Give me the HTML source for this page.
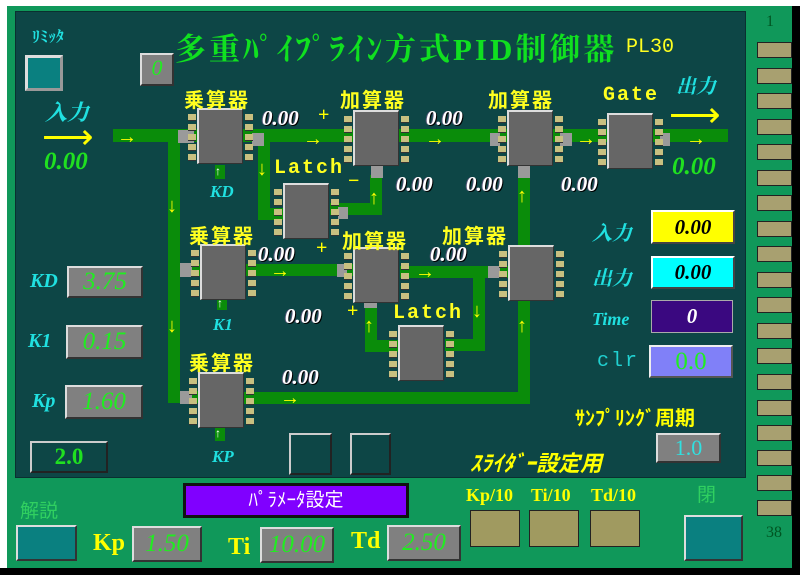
<!DOCTYPE html>
<html><head><meta charset="utf-8"><style>
*{margin:0;padding:0;box-sizing:border-box}
body{width:800px;height:575px;overflow:hidden;background:#fff;position:relative;font-family:"Liberation Serif","Noto Serif CJK SC",serif}
.a{position:absolute}
#outer{left:7px;top:6px;width:785px;height:562px;background:#10985a}
#panel{left:15px;top:11px;width:731px;height:467px;background:#0d4646;border:1px solid #0a3030}
.tr{position:absolute;background:#0a8c0a}
.cn{position:absolute;background:#9a9a9a}
.chip{position:absolute;width:46px;height:56px;background:#666;border-top:2px solid #ddd;border-left:2px solid #ddd;border-right:1px solid #333;border-bottom:1px solid #333}
.chip::before,.chip::after{content:"";position:absolute;top:4px;width:8px;height:48px;background:repeating-linear-gradient(#c8c080 0 6px,#333 6px 7px,transparent 7px 10px)}
.chip::before{left:-11px}.chip::after{right:-11px}
.y{color:#ffff00;font-weight:bold}
.lab{position:absolute;color:#ffff20;font-size:20px;font-weight:bold;letter-spacing:2px;font-family:"Liberation Mono","Noto Sans CJK JP",monospace}
.v{position:absolute;color:#fff;font-style:italic;font-weight:bold;font-size:21px;text-shadow:1px 1px 0 #000,-1px 0 0 #557}
.ar{position:absolute;color:#ffff00;font-size:20px;line-height:12px}
.cy{position:absolute;color:#20e0e0;font-style:italic;font-size:20px;font-weight:bold}
.gb{position:absolute;background:#808080;border-top:2px solid #ddd;border-left:2px solid #ddd;border-right:2px solid #333;border-bottom:2px solid #333;color:#20ee20;font-style:italic;font-size:25px;text-align:center}
.pin{position:absolute;left:757px;width:35px;height:16px;background:#a8a070;border:1px solid #222}
.kh{position:absolute;background:#a09a60;border:1px solid #222;width:50px;height:37px}
</style></head><body>
<div class="a" style="left:0;top:0;width:800px;height:6px;background:#fff"></div>
<div class="a" id="outer"></div>
<div class="a" style="left:792px;top:6px;width:8px;height:569px;background:#000"></div>
<div class="a" style="left:0;top:568px;width:800px;height:7px;background:#000"></div>
<div class="a" id="panel"></div>

<div class="a" style="left:766px;top:13px;font-size:16px;color:#052">1</div>
<div class="pin" style="top:42px"></div><div class="pin" style="top:68px"></div><div class="pin" style="top:93px"></div><div class="pin" style="top:119px"></div><div class="pin" style="top:144px"></div><div class="pin" style="top:170px"></div><div class="pin" style="top:195px"></div><div class="pin" style="top:221px"></div><div class="pin" style="top:246px"></div><div class="pin" style="top:272px"></div><div class="pin" style="top:297px"></div><div class="pin" style="top:323px"></div><div class="pin" style="top:348px"></div><div class="pin" style="top:374px"></div><div class="pin" style="top:400px"></div><div class="pin" style="top:425px"></div><div class="pin" style="top:450px"></div><div class="pin" style="top:475px"></div><div class="pin" style="top:500px"></div>
<div class="a" style="left:766px;top:524px;font-size:16px;color:#052">38</div>

<div class="a" style="left:175px;top:24px;color:#10e020;font-size:31px;font-weight:bold;font-family:'Liberation Serif','Noto Serif CJK SC',serif;letter-spacing:3px">多重ﾊﾟｲﾌﾟﾗｲﾝ方式PID制御器</div>
<div class="a" style="left:626px;top:36px;color:#ffff20;font-size:20px;font-family:'Liberation Mono',monospace">PL30</div>

<div class="cy" style="left:32px;top:24px;font-size:16px;font-style:normal">ﾘﾐｯﾀ</div>
<div class="a" style="left:25px;top:55px;width:38px;height:36px;background:#0a8080;border:3px solid;border-color:#ddd #999 #999 #ddd"></div>
<div class="gb" style="left:140px;top:53px;width:34px;height:33px;font-size:22px">0</div>
<div class="cy" style="left:45px;top:96px;font-size:22px">入力</div>
<div class="ar" style="left:42px;top:130px;font-size:36px;line-height:14px">⟶</div>
<div class="a" style="left:44px;top:148px;color:#20e020;font-style:italic;font-weight:bold;font-size:25px">0.00</div>

<div class="tr" style="left:113px;top:129px;width:615px;height:13px"></div>
<div class="tr" style="left:168px;top:129px;width:12px;height:274px"></div>
<div class="tr" style="left:168px;top:264px;width:35px;height:12px"></div>
<div class="tr" style="left:168px;top:391px;width:35px;height:12px"></div>
<div class="tr" style="left:258px;top:135px;width:12px;height:85px"></div>
<div class="tr" style="left:258px;top:208px;width:30px;height:12px"></div>
<div class="tr" style="left:330px;top:203px;width:52px;height:12px"></div>
<div class="tr" style="left:370px;top:175px;width:12px;height:40px"></div>
<div class="tr" style="left:246px;top:264px;width:110px;height:12px"></div>
<div class="tr" style="left:400px;top:266px;width:110px;height:12px"></div>
<div class="tr" style="left:473px;top:266px;width:12px;height:85px"></div>
<div class="tr" style="left:445px;top:339px;width:40px;height:12px"></div>
<div class="tr" style="left:365px;top:302px;width:12px;height:50px"></div>
<div class="tr" style="left:365px;top:340px;width:35px;height:12px"></div>
<div class="tr" style="left:518px;top:176px;width:12px;height:70px"></div>
<div class="tr" style="left:518px;top:298px;width:12px;height:106px"></div>
<div class="tr" style="left:243px;top:392px;width:287px;height:12px"></div>
<div class="tr" style="left:215px;top:165px;width:10px;height:14px"></div>
<div class="tr" style="left:217px;top:296px;width:10px;height:14px"></div>
<div class="tr" style="left:215px;top:427px;width:10px;height:14px"></div>

<div class="cn" style="left:178px;top:130px;width:16px;height:13px"></div>
<div class="cn" style="left:252px;top:133px;width:12px;height:13px"></div>
<div class="cn" style="left:490px;top:133px;width:10px;height:13px"></div>
<div class="cn" style="left:560px;top:133px;width:12px;height:13px"></div>
<div class="cn" style="left:660px;top:133px;width:10px;height:13px"></div>
<div class="cn" style="left:371px;top:166px;width:12px;height:12px"></div>
<div class="cn" style="left:518px;top:165px;width:12px;height:13px"></div>
<div class="cn" style="left:338px;top:207px;width:10px;height:12px"></div>
<div class="cn" style="left:180px;top:263px;width:12px;height:14px"></div>
<div class="cn" style="left:337px;top:264px;width:10px;height:13px"></div>
<div class="cn" style="left:488px;top:266px;width:12px;height:12px"></div>
<div class="cn" style="left:364px;top:302px;width:13px;height:6px"></div>
<div class="cn" style="left:180px;top:391px;width:12px;height:13px"></div>

<div class="chip" style="left:197px;top:108px"></div>
<div class="chip" style="left:353px;top:110px"></div>
<div class="chip" style="left:507px;top:110px"></div>
<div class="chip" style="left:607px;top:113px"></div>
<div class="chip" style="left:283px;top:183px"></div>
<div class="chip" style="left:200px;top:244px"></div>
<div class="chip" style="left:353px;top:247px"></div>
<div class="chip" style="left:508px;top:245px"></div>
<div class="chip" style="left:398px;top:325px"></div>
<div class="chip" style="left:198px;top:372px"></div>

<div class="lab" style="left:184px;top:84px">乗算器</div>
<div class="lab" style="left:340px;top:84px">加算器</div>
<div class="lab" style="left:488px;top:84px">加算器</div>
<div class="lab" style="left:603px;top:84px">Gate</div>
<div class="lab" style="left:274px;top:157px">Latch</div>
<div class="lab" style="left:189px;top:220px">乗算器</div>
<div class="lab" style="left:342px;top:225px">加算器</div>
<div class="lab" style="left:442px;top:220px">加算器</div>
<div class="lab" style="left:393px;top:302px">Latch</div>
<div class="lab" style="left:189px;top:347px">乗算器</div>

<div class="v" style="left:262px;top:106px">0.00</div><div class="a y" style="left:318px;top:104px;font-size:20px">+</div>
<div class="v" style="left:426px;top:106px">0.00</div>
<div class="v" style="left:396px;top:172px">0.00</div><div class="a y" style="left:348px;top:170px;font-size:20px">−</div>
<div class="v" style="left:466px;top:172px">0.00</div>
<div class="v" style="left:561px;top:172px">0.00</div>
<div class="v" style="left:258px;top:242px">0.00</div><div class="a y" style="left:316px;top:237px;font-size:20px">+</div>
<div class="v" style="left:430px;top:242px">0.00</div>
<div class="v" style="left:285px;top:304px">0.00</div><div class="a y" style="left:347px;top:300px;font-size:20px">+</div>
<div class="v" style="left:282px;top:365px">0.00</div>

<div class="ar" style="left:117px;top:131px">→</div>
<div class="ar" style="left:303px;top:133px">→</div>
<div class="ar" style="left:425px;top:133px">→</div>
<div class="ar" style="left:576px;top:133px">→</div>
<div class="ar" style="left:686px;top:133px">→</div>
<div class="ar" style="left:167px;top:200px">↓</div>
<div class="ar" style="left:167px;top:320px">↓</div>
<div class="ar" style="left:257px;top:163px">↓</div>
<div class="ar" style="left:369px;top:192px">↑</div>
<div class="ar" style="left:517px;top:190px">↑</div>
<div class="ar" style="left:270px;top:265px">→</div>
<div class="ar" style="left:415px;top:266px">→</div>
<div class="ar" style="left:472px;top:305px">↓</div>
<div class="ar" style="left:364px;top:320px">↑</div>
<div class="ar" style="left:517px;top:320px">↑</div>
<div class="ar" style="left:280px;top:392px">→</div>
<div class="a" style="left:215px;top:164px;color:#fff;font-size:12px">↑</div>
<div class="a" style="left:217px;top:296px;color:#fff;font-size:12px">↑</div>
<div class="a" style="left:215px;top:426px;color:#fff;font-size:12px">↑</div>
<div class="cy" style="left:210px;top:182px;font-size:17px">KD</div>
<div class="cy" style="left:213px;top:315px;font-size:17px">K1</div>
<div class="cy" style="left:212px;top:447px;font-size:17px">KP</div>

<div class="cy" style="left:676px;top:70px">出力</div>
<div class="ar" style="left:669px;top:108px;font-size:36px;line-height:14px">⟶</div>
<div class="a" style="left:672px;top:153px;color:#20e020;font-style:italic;font-weight:bold;font-size:25px">0.00</div>

<div class="cy" style="left:592px;top:217px">入力</div>
<div class="a" style="left:651px;top:210px;width:84px;height:34px;background:#ffff00;border:2px solid;border-color:#fff #444 #444 #fff;text-align:center;font-style:italic;font-weight:bold;font-size:21px;line-height:30px">0.00</div>
<div class="cy" style="left:592px;top:262px">出力</div>
<div class="a" style="left:651px;top:256px;width:84px;height:33px;background:#00ffff;border:2px solid;border-color:#fff #444 #444 #fff;text-align:center;font-style:italic;font-weight:bold;font-size:21px;line-height:29px">0.00</div>
<div class="cy" style="left:592px;top:309px;font-size:18px">Time</div>
<div class="a" style="left:651px;top:300px;width:82px;height:33px;background:#3a0880;border:1px solid #aaa;text-align:center;color:#fff;font-style:italic;font-weight:bold;font-size:21px;line-height:31px">0</div>
<div class="a" style="left:597px;top:350px;color:#20d0d0;font-size:20px;font-family:'Liberation Mono',monospace;letter-spacing:2px">clr</div>
<div class="a" style="left:649px;top:345px;width:84px;height:33px;background:#8080f8;border:2px solid;border-color:#eee #555 #555 #eee;text-align:center;color:#20ee20;font-size:25px;line-height:29px">0.0</div>
<div class="a y" style="left:575px;top:402px;font-size:20px;font-family:'Liberation Sans','Noto Sans CJK JP',sans-serif">ｻﾝﾌﾟﾘﾝｸﾞ周期</div>
<div class="a" style="left:656px;top:433px;width:65px;height:30px;background:#808080;border:2px solid;border-color:#ddd #333 #333 #ddd;text-align:center;color:#30e0e0;font-size:22px;line-height:26px">1.0</div>
<div class="a y" style="left:470px;top:446px;font-size:22px;font-style:italic;font-family:'Liberation Sans','Noto Sans CJK JP',sans-serif">ｽﾗｲﾀﾞｰ設定用</div>

<div class="cy" style="left:30px;top:270px">KD</div>
<div class="gb" style="left:67px;top:266px;width:76px;height:32px;line-height:28px">3.75</div>
<div class="cy" style="left:28px;top:330px">K1</div>
<div class="gb" style="left:66px;top:325px;width:77px;height:34px;line-height:30px">0.15</div>
<div class="cy" style="left:32px;top:390px">Kp</div>
<div class="gb" style="left:65px;top:385px;width:78px;height:34px;line-height:30px">1.60</div>
<div class="a" style="left:30px;top:441px;width:78px;height:32px;background:#0d4646;border:2px solid;border-color:#ccc #222 #222 #ccc;text-align:center;color:#20e020;font-weight:bold;font-size:23px;line-height:28px">2.0</div>
<div class="a" style="left:289px;top:433px;width:43px;height:42px;border:2px solid;border-color:#ccc #222 #222 #ccc"></div>
<div class="a" style="left:350px;top:433px;width:41px;height:42px;border:2px solid;border-color:#ccc #222 #222 #ccc"></div>

<div class="a" style="left:20px;top:496px;color:#30d060;font-size:19px;font-family:'Liberation Sans','Noto Sans CJK JP',sans-serif">解説</div>
<div class="a" style="left:16px;top:525px;width:61px;height:36px;background:#0a8080;border:2px solid;border-color:#ddd #333 #333 #ddd"></div>
<div class="a y" style="left:93px;top:530px;font-size:24px">Kp</div>
<div class="gb" style="left:132px;top:526px;width:70px;height:36px;line-height:32px">1.50</div>
<div class="a y" style="left:228px;top:534px;font-size:24px">Ti</div>
<div class="gb" style="left:260px;top:527px;width:74px;height:36px;line-height:32px">10.00</div>
<div class="a y" style="left:351px;top:528px;font-size:24px">Td</div>
<div class="gb" style="left:387px;top:525px;width:74px;height:36px;line-height:32px">2.50</div>
<div class="a" style="left:183px;top:483px;width:226px;height:35px;background:#8000ff;border:3px solid #111;color:#fff;text-align:center;font-size:19px;line-height:29px;font-family:'Liberation Sans','Noto Sans CJK JP',sans-serif">ﾊﾟﾗﾒｰﾀ設定</div>
<div class="a y" style="left:466px;top:485px;font-size:18px">Kp/10</div>
<div class="a y" style="left:531px;top:485px;font-size:18px">Ti/10</div>
<div class="a y" style="left:591px;top:485px;font-size:18px">Td/10</div>
<div class="kh" style="left:470px;top:510px"></div>
<div class="kh" style="left:529px;top:510px"></div>
<div class="kh" style="left:590px;top:510px"></div>
<div class="a" style="left:697px;top:480px;color:#30d060;font-size:19px;font-family:'Liberation Sans','Noto Sans CJK JP',sans-serif">閉</div>
<div class="a" style="left:684px;top:515px;width:59px;height:46px;background:#0a8080;border:2px solid;border-color:#ddd #333 #333 #ddd"></div>
</body></html>
